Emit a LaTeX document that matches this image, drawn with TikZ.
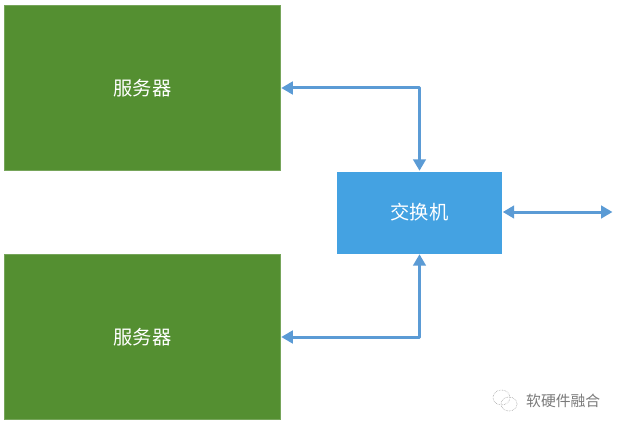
\documentclass[tikz,border=0pt]{standalone}
\usepackage{fontspec}
\setmainfont{Liberation Sans}
\newfontfamily\cjk{Noto Sans CJK SC}
\usetikzlibrary{arrows.meta,positioning}
\definecolor{srvgreen}{HTML}{548F31}
\definecolor{swblue}{HTML}{44A2E2}
\definecolor{linkblue}{HTML}{5B9BD5}
\definecolor{markgrey}{HTML}{7A7A7A}
\tikzset{
  srv/.style={draw=srvgreen!80!white,line width=0.5pt,fill=srvgreen,text=white,minimum width=276pt,minimum height=165pt,inner sep=0pt,font=\cjk\fontsize{19.3}{20}\selectfont},
  sw/.style={fill=swblue,text=white,minimum width=165pt,minimum height=82pt,inner sep=0pt,font=\cjk\fontsize{19.3}{20}\selectfont},
  link/.style={draw=linkblue,line width=3pt,{Triangle[width=12.5pt,length=11.5pt]}-{Triangle[width=12.5pt,length=11.5pt]},line join=round,shorten <=0.5pt,shorten >=0.5pt},
  markbubble/.style={draw=markgrey!70!white,line width=0.6pt,densely dotted},
  marktext/.style={text=markgrey,inner sep=0pt,font=\cjk\fontsize{14.8}{15}\selectfont}
}
\begin{document}
\begin{tikzpicture}[x=1pt,y=-1pt]
\useasboundingbox[fill=white] (0,0) rectangle (619,428);
\node[srv] (s1) at (142.5,88) {服务器};
\node[srv] (s2) at (142.5,337) {服务器};
\node[sw] (x) at (419.5,212.5) {交换机};
\coordinate (c1) at (x.north |- s1.east);
\coordinate (c2) at (x.south |- s2.east);
\coordinate (free) at (613,212);
\draw[link] (s1.east) -- (c1) -- (x.north);
\draw[link] (s2.east) -- (c2) -- (x.south);
\draw[link] (x.east |- free) -- (free);
\node[marktext,anchor=west] (mark) at (526,400.5) {软硬件融合};
\draw[markbubble] (501.5,397.5) ellipse (8.5pt and 7.5pt);
\draw[markbubble] (509,404) ellipse (8pt and 7pt);
\end{tikzpicture}
\end{document}
